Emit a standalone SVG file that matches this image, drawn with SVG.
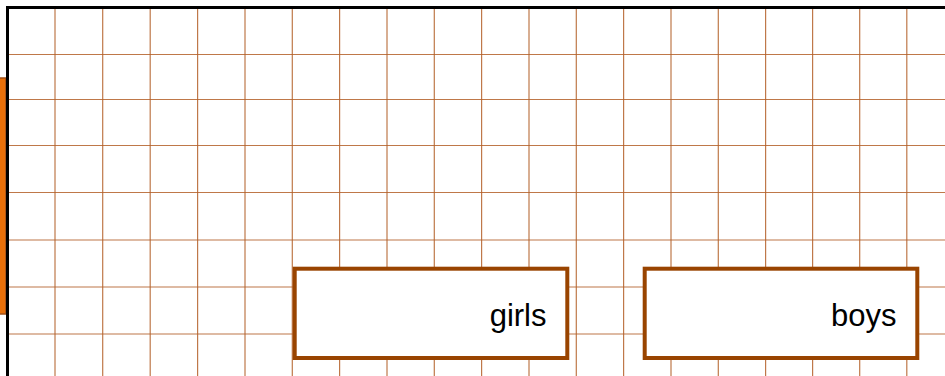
<svg xmlns="http://www.w3.org/2000/svg" width="945" height="376" viewBox="0 0 945 376">
<style>
.grid line{stroke:#b4612a;stroke-width:1.2;opacity:0.85}
.box{fill:#ffffff;stroke:#994400;stroke-width:4}
.lbl{font-family:"Liberation Sans",Arial,sans-serif;font-size:31px;fill:#000000;text-anchor:end}
</style>
<rect width="945" height="376" fill="#ffffff"/>
<g id="grid" class="grid">
<line x1="7" y1="54.5" x2="945" y2="54.5"/>
<line x1="7" y1="99.5" x2="945" y2="99.5"/>
<line x1="7" y1="145.5" x2="945" y2="145.5"/>
<line x1="7" y1="192.5" x2="945" y2="192.5"/>
<line x1="7" y1="240" x2="945" y2="240"/>
<line x1="7" y1="287" x2="945" y2="287"/>
<line x1="7" y1="334" x2="945" y2="334"/>
<line x1="55" y1="7" x2="55" y2="376"/>
<line x1="102.7" y1="7" x2="102.7" y2="376"/>
<line x1="150.2" y1="7" x2="150.2" y2="376"/>
<line x1="197.6" y1="7" x2="197.6" y2="376"/>
<line x1="245" y1="7" x2="245" y2="376"/>
<line x1="292.3" y1="7" x2="292.3" y2="376"/>
<line x1="339.6" y1="7" x2="339.6" y2="376"/>
<line x1="387" y1="7" x2="387" y2="376"/>
<line x1="434.3" y1="7" x2="434.3" y2="376"/>
<line x1="481.6" y1="7" x2="481.6" y2="376"/>
<line x1="529" y1="7" x2="529" y2="376"/>
<line x1="576.3" y1="7" x2="576.3" y2="376"/>
<line x1="623.6" y1="7" x2="623.6" y2="376"/>
<line x1="671" y1="7" x2="671" y2="376"/>
<line x1="718.3" y1="7" x2="718.3" y2="376"/>
<line x1="765.6" y1="7" x2="765.6" y2="376"/>
<line x1="812.6" y1="7" x2="812.6" y2="376"/>
<line x1="859.7" y1="7" x2="859.7" y2="376"/>
<line x1="906.8" y1="7" x2="906.8" y2="376"/>
</g>
<g id="frame">
<rect x="-5" y="78" width="11" height="236" fill="#e8700a" stroke="#a0501a" stroke-width="1.5"/>
<path d="M7.5,376 V7.5 H945" fill="none" stroke="#000000" stroke-width="3"/>
</g>
<g id="girls">
<rect class="box" x="294.7" y="268.7" width="272.6" height="89.3"/>
<text class="lbl" x="546.5" y="326">girls</text>
</g>
<g id="boys">
<rect class="box" x="644.7" y="268.7" width="272.6" height="89.3"/>
<text class="lbl" x="896.5" y="326">boys</text>
</g>
<g id="connectors"></g>
</svg>
